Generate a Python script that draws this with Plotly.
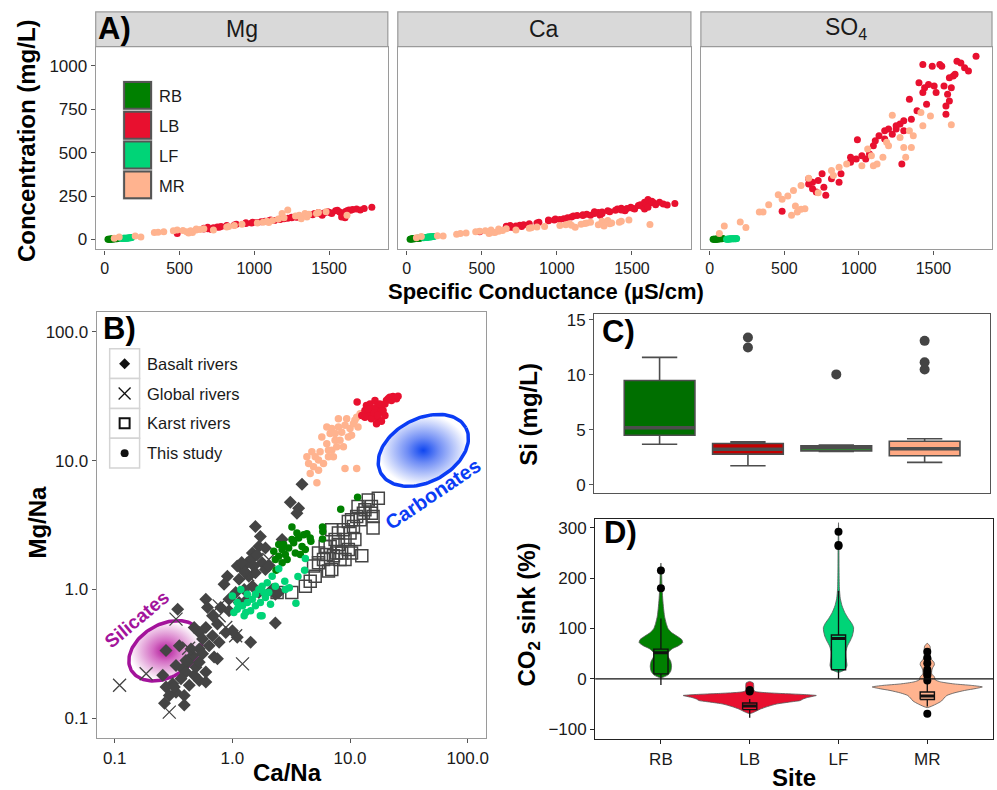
import numpy as np
import plotly.graph_objects as go

W, H = 997, 790
FONT = "Liberation Sans, Arial, Helvetica, sans-serif"
TXT = "#1a1a1a"

sites = ["RB", "LB", "LF", "MR"]
site_colors = ["#008000", "#e8102f", "#00d477", "#ffb38f"]
si_fill = ["#006f00", "#c20000", "#2f8f2f", "#ffa983"]

# ---------------- Panel A : concentration vs specific conductance ----------------
A_RB_SC = [22, 28, 33, 38, 42, 47, 52, 58, 63, 68, 75, 82, 88]
A_RB_Mg = [1, 1.5, 2, 2, 2.5, 3, 3, 3.5, 4, 4, 4.5, 5, 5.5]
A_RB_Ca = [2, 3, 3, 4, 4, 5, 5, 6, 6, 7, 7, 8, 8]
A_RB_SO4 = [1, 1, 2, 2, 2, 3, 3, 3, 4, 4, 5, 5, 6]

A_LF_SC = [112, 118, 125, 130, 136, 142, 148, 155, 160, 168, 175, 180]
A_LF_Mg = [6, 6, 7, 7, 8, 8, 8, 9, 9, 10, 10, 11]
A_LF_Ca = [10, 11, 12, 12, 13, 14, 14, 15, 16, 16, 17, 18]
A_LF_SO4 = [2, 2, 3, 3, 3, 4, 4, 4, 5, 5, 5, 6]

A_LB_SC = [485, 663, 689, 727, 753, 765, 714, 778, 816, 867, 880, 944, 982, 990, 1020, 1046, 1071, 1097, 1110, 1135,
           1173, 1199, 1224, 1250, 1276, 1288, 1301, 1339, 1352, 1390, 1403, 1429, 1441, 1454, 1467, 1492, 1505, 1518,
           1543, 1556, 1571, 1584, 1584, 1595, 1607, 1620, 1633, 1645, 1658, 1684, 1709, 1735, 1786, 663, 689, 944,
           1250, 1301, 1607, 1429, 1173]
A_LB_Mg = [35, 60, 62, 68, 72, 70, 58, 75, 80, 84, 88, 92, 95, 100, 98, 102, 105, 108, 112, 110,
           118, 120, 122, 125, 130, 128, 132, 138, 140, 142, 150, 155, 148, 140, 152, 160, 155, 150,
           165, 168, 158, 150, 130, 145, 160, 165, 170, 168, 172, 175, 170, 178, 186, 65, 70, 96,
           128, 135, 125, 150, 115]
A_LB_Ca = [45, 72, 70, 78, 82, 75, 68, 85, 90, 95, 100, 108, 112, 118, 115, 120, 125, 130, 135, 138,
           142, 145, 140, 150, 155, 140, 158, 165, 160, 168, 175, 180, 172, 165, 178, 185, 180, 175,
           195, 200, 190, 215, 175, 205, 230, 210, 220, 212, 200, 215, 205, 198, 207, 76, 80, 112,
           160, 150, 185, 170, 138]
A_LB_SO4 = [162, 320, 292, 339, 378, 301, 273, 254, 349, 330, 378, 444, 463, 574, 482, 463, 492, 540, 568, 597,
            625, 635, 606, 635, 664, 435, 683, 807, 692, 740, 902, 1007, 873, 778, 892, 997, 883, 845,
            1007, 997, 883, 768, 721, 835, 797, 873, 940, 950, 1026, 1016, 988, 969, 1054, 349, 330, 473,
            654, 625, 930, 845, 578]

A_MR_SC = [64, 97, 204, 242, 332, 357, 395, 459, 485, 523, 548, 574, 587, 612, 638, 561, 612, 663, 727, 829,
           867, 918, 1020, 1059, 1084, 1122, 1161, 1186, 1199, 1224, 1276, 1301, 1314, 1339, 1352, 1365, 1416,
           1429, 1480, 1620, 816, 1097]
A_MR_Mg = [8, 15, 20, 15, 40, 42, 45, 50, 55, 52, 45, 50, 40, 55, 58, 38, 60, 62, 55, 75,
           80, 88, 95, 100, 105, 110, 118, 150, 125, 170, 135, 140, 120, 150, 130, 145, 150,
           155, 160, 140, 72, 98]
A_MR_Ca = [10, 18, 22, 20, 30, 35, 38, 45, 48, 50, 35, 42, 40, 48, 52, 55, 60, 62, 55, 68,
           72, 75, 80, 85, 90, 70, 88, 92, 95, 100, 85, 105, 78, 110, 90, 95, 100,
           105, 112, 86, 65, 82]
A_MR_SO4 = [34, 78, 101, 69, 158, 158, 200, 257, 231, 250, 139, 193, 158, 174, 177, 282, 311, 353, 269, 368,
            416, 435, 425, 521, 482, 435, 473, 559, 540, 715, 587, 530, 473, 625, 530, 597, 730,
            654, 711, 660, 397, 425]

A_ions = ["Mg", "Ca", "SO<sub>4</sub>"]
A_xticks = [0, 500, 1000, 1500]
A_yticks = [0, 250, 500, 750, 1000]

# ---------------- Panel B : Mg/Na vs Ca/Na ----------------
B_basalt_CaNa = [3.91, 3.11, 3.66, 3.54, 1.57, 1.73, 2.65, 1.48, 1.68, 1.91, 1.34, 1.52, 1.79, 1.22, 1.38, 1.57, 1.91,
                 2.04, 0.907, 1.10, 1.30, 1.14, 1.48, 1.26, 1.067, 0.937, 1.14, 1.34, 1.68, 2.18, 2.32, 2.48, 2.32,
                 1.43, 0.595, 0.615, 0.797, 0.937, 0.678, 0.747, 0.595, 0.523, 0.558, 0.678, 0.772, 0.879, 1.0,
                 1.10, 0.474, 0.635, 0.523, 0.459, 0.417, 0.378, 0.332, 0.403, 0.474, 0.523, 0.595, 0.430, 0.366,
                 0.311, 0.273, 0.332, 0.390, 0.291, 0.265, 0.390, 0.321, 0.403, 0.343, 0.273, 0.747, 0.700, 0.490,
                 0.523, 0.256, 0.595, 0.354, 0.445, 0.558, 1.48, 1.62, 1.20, 0.85]
B_basalt_MgNa = [6.54, 4.75, 4.27, 3.91, 3.08, 2.58, 2.44, 1.92, 2.16, 2.10, 1.61, 1.52, 1.61, 1.43, 1.27, 1.35, 1.43,
                 1.52, 1.27, 1.52, 1.35, 1.20, 1.06, 1.00, 0.946, 0.841, 0.792, 0.841, 0.946, 1.00, 0.918, 0.946,
                 0.550, 0.390, 0.841, 0.725, 0.725, 0.684, 0.625, 0.540, 0.508, 0.465, 0.413, 0.438, 0.390, 0.465,
                 0.479, 0.426, 0.508, 0.367, 0.346, 0.308, 0.273, 0.243, 0.258, 0.229, 0.216, 0.197, 0.192, 0.181,
                 0.203, 0.186, 0.175, 0.160, 0.151, 0.151, 0.131, 0.127, 0.175, 0.282, 0.704, 0.336, 0.290, 0.299,
                 0.250, 0.273, 0.216, 0.229, 0.367, 0.346, 0.317, 1.75, 1.85, 1.62, 1.10]
B_global_CaNa = [0.110, 0.185, 0.332, 0.425, 0.291, 1.22, 0.772, 0.879, 1.067, 0.772, 2.04, 1.35]
B_global_MgNa = [0.181, 0.222, 0.589, 0.350, 0.112, 0.265, 0.625, 0.508, 0.438, 0.747, 1.71, 1.30]
B_karst_CaNa = [4.17, 4.59, 5.06, 5.40, 5.95, 6.56, 7.00, 6.35, 6.78, 7.47, 7.97, 8.50, 9.07, 9.68, 10.3, 12.6, 7.00,
                7.97, 8.79, 9.68, 10.3, 11.4, 12.2, 13.0, 14.3, 15.2, 17.4, 15.7, 15.7, 11.7, 13.4, 10.7, 9.07,
                10.0, 5.40, 4.90, 7.71, 7.23, 8.22, 6.15, 11.0, 15.2, 2.40, 3.20]
B_karst_MgNa = [1.06, 1.16, 1.27, 1.61, 1.71, 1.39, 1.43, 1.87, 2.16, 2.44, 2.23, 1.92, 1.71, 2.04, 1.92, 1.83, 2.91,
                2.74, 2.91, 3.37, 3.47, 3.69, 3.47, 3.91, 4.95, 4.40, 5.10, 3.69, 3.00, 4.40, 4.15, 3.08, 2.44,
                2.74, 1.92, 1.52, 1.92, 1.83, 1.71, 2.16, 2.44, 3.91, 0.946, 0.95]
B_RB_CaNa = [11.6, 8.34, 5.84, 5.87, 5.84, 3.21, 4.65, 2.48, 2.25, 2.32, 2.65, 3.01, 3.32, 3.66, 4.04, 4.30, 3.43,
             2.82, 2.48, 3.91, 4.17, 3.21, 2.73, 3.54, 2.35, 3.78, 2.92, 2.65, 4.59]
B_RB_MgNa = [5.19, 4.20, 3.05, 2.82, 2.46, 3.05, 2.37, 2.23, 1.98, 1.71, 2.04, 2.10, 2.30, 2.51, 2.66, 2.71, 1.92,
             1.87, 1.81, 2.16, 2.04, 2.44, 2.23, 2.74, 1.41, 1.87, 1.71, 1.61, 2.51]
B_LF_CaNa = [4.17, 4.11, 3.61, 3.05, 3.47, 2.79, 2.48, 2.18, 1.98, 1.79, 1.68, 1.57, 1.48, 1.34, 1.22, 1.10, 1.03,
             1.18, 1.0, 1.26, 1.43, 1.73, 1.91, 2.04, 1.73, 1.57, 2.11, 2.32, 1.85, 1.34, 1.10, 1.30, 1.79, 2.82]
B_LF_MgNa = [1.74, 1.41, 1.26, 1.03, 0.783, 1.16, 1.45, 1.27, 1.13, 1.06, 1.00, 0.918, 0.841, 0.792, 0.747, 0.704,
             0.663, 1.00, 0.892, 0.625, 0.684, 0.792, 0.866, 0.946, 0.625, 0.747, 0.769, 1.06, 0.946, 0.918,
             0.792, 0.663, 0.625, 1.00]
B_LB_CaNa = [11.5, 12.6, 13.4, 13.8, 14.3, 14.8, 15.2, 15.7, 16.3, 16.8, 17.4, 17.9, 18.5, 19.1, 19.8, 20.4, 21.1,
             21.8, 22.5, 23.2, 24.0, 24.8, 25.6, 16.8, 15.2, 13.4, 17.9, 16.1, 19.8, 14.3, 17.2, 18.5]
B_LB_MgNa = [28.4, 22.4, 24.4, 26.7, 23.1, 27.5, 25.2, 22.4, 29.2, 25.9, 21.1, 23.7, 26.7, 24.4, 22.4, 29.2, 30.1,
             31.0, 29.2, 31.4, 30.6, 30.1, 31.5, 19.3, 21.1, 21.7, 27.5, 23.4, 27.5, 25.2, 22.4, 20.2]
B_MR_CaNa = [5.23, 4.59, 4.90, 4.30, 4.74, 5.40, 5.95, 6.56, 7.00, 6.35, 5.76, 6.78, 7.47, 7.97, 8.50, 9.07, 9.37,
             10.0, 10.3, 10.7, 11.0, 11.4, 12.2, 7.97, 7.00, 6.35, 7.23, 9.07, 11.4, 5.06, 5.57, 7.71, 8.22, 9.68,
             4.45, 5.40, 6.56, 8.79, 11.7, 7.47]
B_MR_MgNa = [6.74, 7.95, 8.95, 10.7, 11.7, 10.1, 9.49, 10.7, 12.0, 13.5, 15.2, 16.2, 14.4, 18.2, 16.6, 18.8, 21.1,
             17.7, 15.7, 19.3, 20.5, 21.7, 23.1, 21.1, 17.7, 18.2, 10.7, 8.69, 8.69, 10.7, 11.7, 12.8, 14.4, 15.2,
             9.49, 8.43, 12.0, 12.8, 18.2, 16.2]
B_ticks = [0.1, 1.0, 10.0, 100.0]
B_ticktext = ["0.1", "1.0", "10.0", "100.0"]
# end-member fields: centre (Ca/Na, Mg/Na), semi-axes in decades, tilt (deg)
silicate_center = (0.27, 0.335)
silicate_axes = (0.335, 0.225)
silicate_tilt = 30
carbonate_center = (42.0, 12.0)
carbonate_axes = (0.41, 0.27)
carbonate_tilt = 28

# ---------------- Panel C : Si box plots ----------------
C_q1 = [4.52, 2.8, 3.1, 2.65]
C_median = [5.2, 3.25, 3.4, 3.3]
C_q3 = [9.5, 3.77, 3.55, 3.98]
C_low = [3.7, 1.75, 3.05, 2.05]
C_high = [11.6, 3.92, 3.62, 4.2]
C_outliers = [[], [12.5, 13.4], [10.05], [10.5, 11.15, 13.1]]

# ---------------- Panel D : CO2 sink violins ----------------
D_violin_levels = [
    [2, 8, 15, 25, 35, 45, 52, 60, 66, 72, 78, 85, 92, 100, 110, 125, 140, 160, 185, 210, 230],
    [-69, -66, -60, -55, -50, -46, -43, -40, -37, -34, -33, -31, -29, -27, -25, -22, -15, -8, -5],
    [13, 18, 26, 35, 45, 55, 65, 75, 85, 95, 102, 110, 120, 132, 145, 160, 180, 220, 260, 310],
    [-57, -50, -44, -38, -33, -28, -23, -19, -16, -13, -10, -6, -2, 4, 10, 16, 22, 28, 33, 38, 45, 55, 65, 71],
]
D_violin_density = [
    [0, 0.08, 0.11, 0.12, 0.11, 0.08, 0.08, 0.13, 0.2, 0.245, 0.235, 0.18, 0.12, 0.08, 0.06, 0.04, 0.03, 0.02,
     0.012, 0.008, 0],
    [0, 0.05, 0.12, 0.2, 0.3, 0.45, 0.57, 0.6, 0.65, 0.73, 0.75, 0.6, 0.35, 0.15, 0.06, 0.045, 0.045, 0.04, 0],
    [0, 0.07, 0.095, 0.09, 0.085, 0.085, 0.1, 0.13, 0.155, 0.168, 0.17, 0.15, 0.11, 0.07, 0.04, 0.02, 0.01,
     0.006, 0.005, 0],
    [0, 0.1, 0.16, 0.19, 0.22, 0.3, 0.42, 0.55, 0.62, 0.5, 0.3, 0.15, 0.09, 0.08, 0.05, 0.05, 0.06, 0.08, 0.075,
     0.05, 0.035, 0.035, 0.03, 0],
]
D_q1 = [10, -61, 18, -41]
D_median = [52, -54, 80, -34]
D_q3 = [59, -48, 87, -26]
D_low = [-12, -77, 0, -55]
D_high = [120, -40, 175, -5]
D_outliers = [[180, 215], [-25, -22], [264, 266, 292], [-69, -3, 6.6, 10, 14.5, 18.5, 31, 41.5, 54]]


# ---------------- helpers ----------------
def px(x):
    return x / W


def py(y):
    return 1 - y / H


fig = go.Figure()

# Panel A traces
A_sets = [
    ("RB", A_RB_SC, [A_RB_Mg, A_RB_Ca, A_RB_SO4]),
    ("LF", A_LF_SC, [A_LF_Mg, A_LF_Ca, A_LF_SO4]),
    ("LB", A_LB_SC, [A_LB_Mg, A_LB_Ca, A_LB_SO4]),
    ("MR", A_MR_SC, [A_MR_Mg, A_MR_Ca, A_MR_SO4]),
]
for k in range(3):
    xa = "x" if k == 0 else f"x{k + 1}"
    ya = "y" if k == 0 else f"y{k + 1}"
    for name, sc, vals in A_sets:
        fig.add_trace(go.Scatter(x=sc, y=vals[k], mode="markers", xaxis=xa, yaxis=ya,
                                 marker=dict(size=7, color=site_colors[sites.index(name)]),
                                 showlegend=False, hoverinfo="skip"))


# Panel B ellipses
def ellipse(center, axes, tilt, n=120):
    t = np.linspace(0, 2 * np.pi, n)
    th = np.deg2rad(tilt)
    lx = np.log10(center[0]) + axes[0] * np.cos(t) * np.cos(th) - axes[1] * np.sin(t) * np.sin(th)
    ly = np.log10(center[1]) + 0.91 * (axes[0] * np.cos(t) * np.sin(th) + axes[1] * np.sin(t) * np.cos(th))
    return 10 ** lx, 10 ** ly


for cen, ax_, tilt, lc, cs in [
    (silicate_center, silicate_axes, silicate_tilt, "#a3139b",
     [[0, "rgb(175,20,150)"], [0.35, "rgb(212,110,196)"], [1, "rgb(255,255,255)"]]),
    (carbonate_center, carbonate_axes, carbonate_tilt, "#0a3cf5",
     [[0, "rgb(15,70,240)"], [0.35, "rgb(110,140,245)"], [1, "rgb(255,255,255)"]]),
]:
    ex, ey = ellipse(cen, ax_, tilt)
    fig.add_trace(go.Scatter(x=ex, y=ey, mode="lines", fill="toself", xaxis="x4", yaxis="y4",
                             fillgradient=dict(type="radial", colorscale=cs),
                             line=dict(color=lc, width=3.5), showlegend=False, hoverinfo="skip"))

fig.add_trace(go.Scatter(x=B_basalt_CaNa, y=B_basalt_MgNa, mode="markers", xaxis="x4", yaxis="y4",
                         marker=dict(symbol="diamond", size=10, color="#444444"), hoverinfo="skip"))
fig.add_trace(go.Scatter(x=B_global_CaNa, y=B_global_MgNa, mode="markers", xaxis="x4", yaxis="y4",
                         marker=dict(symbol="x-thin-open", size=13, color="#444444",
                                     line=dict(color="#444444", width=1.3)),
                         hoverinfo="skip"))
fig.add_trace(go.Scatter(x=B_karst_CaNa, y=B_karst_MgNa, mode="markers", xaxis="x4", yaxis="y4",
                         marker=dict(symbol="square-open", size=12, color="#444444", line=dict(width=1.5)),
                         hoverinfo="skip"))
for name, xs, ys in [("RB", B_RB_CaNa, B_RB_MgNa), ("LF", B_LF_CaNa, B_LF_MgNa),
                     ("MR", B_MR_CaNa, B_MR_MgNa), ("LB", B_LB_CaNa, B_LB_MgNa)]:
    fig.add_trace(go.Scatter(x=xs, y=ys, mode="markers", xaxis="x4", yaxis="y4",
                             marker=dict(size=7.5, color=site_colors[sites.index(name)]), hoverinfo="skip"))

# Panel C boxes
C_pos = list(range(len(sites)))
for i, s in enumerate(sites):
    fig.add_trace(go.Box(x=[C_pos[i]], q1=[C_q1[i]], median=[C_median[i]], q3=[C_q3[i]],
                         lowerfence=[C_low[i]], upperfence=[C_high[i]], width=0.8, boxpoints=False,
                         fillcolor=si_fill[i], line=dict(color="#4d4d4d", width=1.6),
                         xaxis="x5", yaxis="y5", hoverinfo="skip"))
    fig.add_trace(go.Scatter(x=[C_pos[i] - 0.4, C_pos[i] + 0.4], y=[C_median[i]] * 2, mode="lines",
                             line=dict(color="#4d4d4d", width=3.5), xaxis="x5", yaxis="y5", hoverinfo="skip"))
    if C_outliers[i]:
        fig.add_trace(go.Scatter(x=[C_pos[i]] * len(C_outliers[i]), y=C_outliers[i], mode="markers",
                                 marker=dict(color="#444444", size=10), xaxis="x5", yaxis="y5",
                                 hoverinfo="skip"))

# Panel D violins + boxes (boxes drawn as scatter so they sit above the violins)
D_box_w = 0.16
for i, s in enumerate(sites):
    lv = D_violin_levels[i]
    dn = D_violin_density[i]
    vx = [C_pos[i] - d for d in dn] + [C_pos[i] + d for d in dn[::-1]]
    vy = lv + lv[::-1]
    fig.add_trace(go.Scatter(x=vx, y=vy, mode="lines", fill="toself", fillcolor=site_colors[i],
                             line=dict(color="#555555", width=0.8, shape="spline", smoothing=0.6),
                             xaxis="x6", yaxis="y6", hoverinfo="skip"))
for i, s in enumerate(sites):
    c = C_pos[i]
    h = D_box_w / 2
    fig.add_trace(go.Scatter(x=[c, c, None, c, c], y=[D_low[i], D_q1[i], None, D_q3[i], D_high[i]],
                             mode="lines", line=dict(color="#111111", width=1.3), xaxis="x6", yaxis="y6",
                             hoverinfo="skip"))
    fig.add_trace(go.Scatter(x=[c - h, c + h, c + h, c - h, c - h],
                             y=[D_q1[i], D_q1[i], D_q3[i], D_q3[i], D_q1[i]],
                             mode="lines", fill="toself", fillcolor=site_colors[i],
                             line=dict(color="#111111", width=1.4), xaxis="x6", yaxis="y6", hoverinfo="skip"))
    fig.add_trace(go.Scatter(x=[c - h, c + h], y=[D_median[i]] * 2, mode="lines",
                             line=dict(color="#111111", width=3), xaxis="x6", yaxis="y6", hoverinfo="skip"))
    fig.add_trace(go.Scatter(x=[c] * len(D_outliers[i]), y=D_outliers[i], mode="markers",
                             marker=dict(color="#000000", size=8), xaxis="x6", yaxis="y6", hoverinfo="skip"))

# ---------------- layout ----------------
tickfont = dict(family=FONT, size=17, color=TXT)


def axis(domain, rng, lc="#9a9a9a", **kw):
    d = dict(domain=domain, range=rng, showgrid=False, zeroline=False, showline=True, mirror=True,
             linecolor=lc, linewidth=1.2, ticks="outside", ticklen=4, tickwidth=1, tickcolor="#555555",
             tickfont=tickfont)
    d.update(kw)
    return d


A_dom = [(96, 389), (399, 693), (703, 995)]
A_ydom = [py(248), py(44)]
lay = dict(width=W, height=H, margin=dict(l=0, r=0, t=0, b=0), paper_bgcolor="white", plot_bgcolor="white",
           showlegend=False, font=dict(family=FONT, color=TXT))
for k, (a, b) in enumerate(A_dom):
    xn = "xaxis" if k == 0 else f"xaxis{k + 1}"
    yn = "yaxis" if k == 0 else f"yaxis{k + 1}"
    xa = "x" if k == 0 else f"x{k + 1}"
    ya = "y" if k == 0 else f"y{k + 1}"
    lay[xn] = axis([px(a), px(b)], [-60, 1893], anchor=ya, tickvals=A_xticks,
                   tickfont=dict(family=FONT, size=16, color=TXT))
    if k == 0:
        lay[yn] = axis(A_ydom, [-57, 1109], anchor=xa, tickvals=A_yticks)
    else:
        lay[yn] = axis(A_ydom, [-57, 1109], anchor=xa, tickvals=A_yticks, showticklabels=False, ticks="")

lay["xaxis4"] = axis([px(97), px(487)], [-1.153, 2.152], anchor="y4", type="log", tickvals=B_ticks,
                     ticktext=B_ticktext)
lay["yaxis4"] = axis([py(740), py(311)], [-1.154, 2.152], anchor="x4", type="log", tickvals=B_ticks,
                     ticktext=B_ticktext)
lay["xaxis5"] = axis([px(596), px(993)], [-0.74, 3.74], anchor="y5", lc="#555555", showticklabels=False,
                     ticks="")
lay["yaxis5"] = axis([py(493), py(313)], [-0.72, 15.54], anchor="x5", lc="#555555", tickvals=[0, 5, 10, 15])
lay["xaxis6"] = axis([px(597), px(996)], [-0.74, 3.74], anchor="y6", lc="#222222", tickvals=C_pos,
                     ticktext=sites, tickcolor="#222222")
lay["yaxis6"] = axis([py(741), py(519)], [-120, 318], anchor="x6", lc="#222222",
                     tickvals=[-100, 0, 100, 200, 300], tickcolor="#222222")

shapes = []
annotations = []


def note(text, x, y, size, color=TXT, xanchor="center", angle=0, xref="paper", yref="paper"):
    return dict(text=text, xref=xref, yref=yref, x=x, y=y, xanchor=xanchor, yanchor="middle",
                textangle=angle, showarrow=False, font=dict(size=size, color=color, family=FONT))


# facet strips
for k, (a, b) in enumerate(A_dom):
    shapes.append(dict(type="rect", xref="paper", yref="paper", x0=px(a), x1=px(b), y0=py(44), y1=py(9),
                       fillcolor="#d9d9d9", line=dict(color="#9a9a9a", width=1.2), layer="below"))
    annotations.append(note(A_ions[k], px((a + b) / 2), py(26), 23))
# panel A legend
for i, s in enumerate(sites):
    top = 78 + 30 * i
    shapes.append(dict(type="rect", xref="paper", yref="paper", x0=px(123), x1=px(153), y0=py(top + 30),
                       y1=py(top), fillcolor="#dcdcdc", line=dict(width=0)))
    shapes.append(dict(type="rect", xref="paper", yref="paper", x0=px(124.5), x1=px(151.5), y0=py(top + 28.5),
                       y1=py(top + 1.5), fillcolor=site_colors[i], line=dict(color="#555555", width=2)))
    annotations.append(note(s, px(157), py(top + 16), 16.5, xanchor="left"))
# panel B legend
B_leg = ["Basalt rivers", "Global rivers", "Karst rivers", "This study"]
for i, lab in enumerate(B_leg):
    top = 348 + 30 * i
    cx, cy = 125, top + 15
    shapes.append(dict(type="rect", xref="paper", yref="paper", x0=px(110), x1=px(140), y0=py(top + 30),
                       y1=py(top), fillcolor="white", line=dict(color="#d4d4d4", width=1.5)))
    if i == 0:
        shapes.append(dict(type="path", xref="paper", yref="paper", fillcolor="#111111", line=dict(width=0),
                           path=f"M {px(cx - 5.5)} {py(cy)} L {px(cx)} {py(cy - 5.5)} L {px(cx + 5.5)} {py(cy)} "
                                f"L {px(cx)} {py(cy + 5.5)} Z"))
    elif i == 1:
        for sgn in (1, -1):
            shapes.append(dict(type="line", xref="paper", yref="paper", x0=px(cx - 6), x1=px(cx + 6),
                               y0=py(cy - 6 * sgn), y1=py(cy + 6 * sgn), line=dict(color="#111111", width=1.3)))
    elif i == 2:
        shapes.append(dict(type="rect", xref="paper", yref="paper", x0=px(cx - 5), x1=px(cx + 5),
                           y0=py(cy + 5), y1=py(cy - 5), line=dict(color="#111111", width=2)))
    else:
        shapes.append(dict(type="circle", xref="paper", yref="paper", x0=px(cx - 4), x1=px(cx + 4),
                           y0=py(cy + 4), y1=py(cy - 4), fillcolor="#111111", line=dict(width=0)))
    annotations.append(note(lab, px(145), py(cy), 16.5, xanchor="left"))
# zero line in D
shapes.append(dict(type="line", xref="x6 domain", yref="y6", x0=0, x1=1, y0=0, y1=0,
                   line=dict(color="#111111", width=1.3), layer="above"))

# end-member labels
annotations.append(note("<b>Silicates</b>", np.log10(0.153), np.log10(0.59), 19, color="#a3139b", angle=-40,
                        xref="x4", yref="y4"))
annotations.append(note("<b>Carbonates</b>", np.log10(50.7), np.log10(5.5), 20, color="#0a3cf5", angle=-34,
                        xref="x4", yref="y4"))

# panel letters
for lab, x, y in [("A)", 96, 26), ("B)", 101, 328), ("C)", 602, 331), ("D)", 604, 533)]:
    annotations.append(note(f"<b>{lab}</b>", px(x), py(y), 31, color="#000000", xanchor="left"))

# axis titles
for txt, x, y, ang, sz in [("Concentration (mg/L)", 26, 138, -90, 24),
                           ("Specific Conductance (µS/cm)", 548, 290, 0, 22),
                           ("Mg/Na", 38, 522, -90, 24), ("Ca/Na", 288, 774, 0, 24),
                           ("Si (mg/L)", 530, 414, -90, 24), ("CO<sub>2</sub> sink (%)", 530, 615, -90, 24),
                           ("Site", 796, 779, 0, 24)]:
    annotations.append(note(f"<b>{txt}</b>", px(x), py(y), sz, color="#000000", angle=ang))

lay["shapes"] = shapes
lay["annotations"] = annotations
fig.update_layout(**lay)
fig.write_html("out.html", config={"displayModeBar": False},
               post_script="document.body.style.margin='0px';document.body.style.overflow='hidden';")
